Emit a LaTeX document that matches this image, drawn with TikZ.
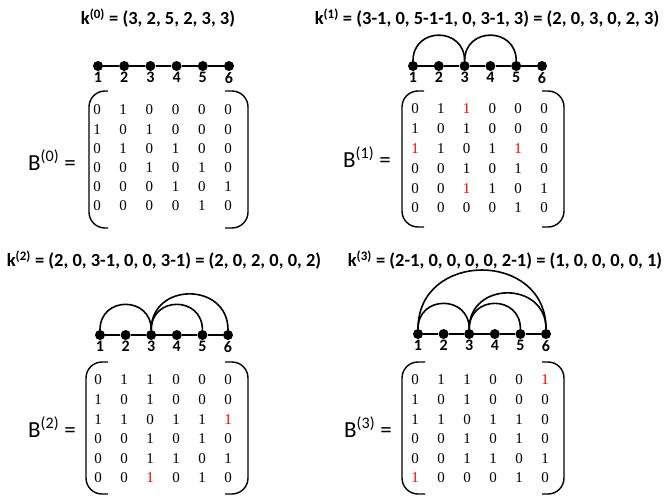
\documentclass[tikz,border=0pt]{standalone}
\usepackage{fontspec}
\setmainfont{Carlito}
\newfontfamily\entryfont{Liberation Serif}
\newcommand\rd[1]{\textcolor{red}{#1}}
\begin{document}
\begin{tikzpicture}[x=1pt,y=-1pt,
  dot/.style={circle,fill,inner sep=0pt,minimum size=10pt},
  lbl/.style={font=\bfseries\fontsize{16}{16}\selectfont,anchor=north,inner sep=0pt},
  entry/.style={font=\entryfont\fontsize{15}{15}\selectfont,inner sep=0pt},
  title/.style={font=\bfseries\fontsize{18.5}{18.5}\selectfont},
  bname/.style={font=\fontsize{23}{23}\selectfont},
  spine/.style={line width=1.8pt},
  hop/.style={line width=1.6pt,out=90,in=90,looseness=1.7},
  paren/.style={line width=1.4pt,rounded corners=16pt}]
\useasboundingbox (0,0) rectangle (671,495);

% k(0)
\node[title] (t0) at (158,18) {k\textsuperscript{(0)} = (3, 2, 5, 2, 3, 3)};
\foreach \i in {1,...,6}{
    \node[dot] (a\i) at (98+26.2*\i-26.2,66) {};
    \node[lbl] (na\i) at (98+26.2*\i-26.2,72) {\i};
}
\draw[spine] (a1) -- (a2) -- (a3) -- (a4) -- (a5) -- (a6);
\node[bname] (b0) at (52,160) {B\textsuperscript{(0)} =};
\foreach \row [count=\r] in {{0,1,0,0,0,0},{1,0,1,0,0,0},{0,1,0,1,0,0},{0,0,1,0,1,0},{0,0,0,1,0,1},{0,0,0,0,1,0}}
    \foreach \v [count=\c] in \row
        \node[entry] (ma\r\c) at (97+26.2*\c-26.2,110+19.2*\r-19.2) {\v};
\draw[paren] (108,91) -- (89,91) -- (89,228) -- (108,228);
\draw[paren] (225,91) -- (248,91) -- (248,228) -- (225,228);

% k(1)
\node[title] (t1) at (487,18) {k\textsuperscript{(1)} = (3-1, 0, 5-1-1, 0, 3-1, 3) = (2, 0, 3, 0, 2, 3)};
\foreach \i in {1,...,6}{
    \node[dot] (b\i) at (413+25.8*\i-25.8,66) {};
    \node[lbl] (nb\i) at (413+25.8*\i-25.8,72) {\i};
}
\draw[spine] (b1) -- (b2) -- (b3) -- (b4) -- (b5) -- (b6);
\draw[hop] (b1) to (b3);
\draw[hop] (b3) to (b5);
\node[bname] (b1name) at (367,157) {B\textsuperscript{(1)} =};
\foreach \row [count=\r] in {{0,1,\rd1,0,0,0},{1,0,1,0,0,0},{\rd1,1,0,1,\rd1,0},{0,0,1,0,1,0},{0,0,\rd1,1,0,1},{0,0,0,0,1,0}}
    \foreach \v [count=\c] in \row
        \node[entry] (mb\r\c) at (415+25.8*\c-25.8,109+19.8*\r-19.8) {\v};
\draw[paren] (424,91) -- (402,91) -- (402,227) -- (424,227);
\draw[paren] (542,91) -- (564,91) -- (564,227) -- (542,227);

% k(2)
\node[title] (t2) at (164,260) {k\textsuperscript{(2)} = (2, 0, 3-1, 0, 0, 3-1) = (2, 0, 2, 0, 0, 2)};
\foreach \i in {1,...,6}{
    \node[dot] (c\i) at (100+25.6*\i-25.6,335) {};
    \node[lbl] (nc\i) at (100+25.6*\i-25.6,341) {\i};
}
\draw[spine] (c1) -- (c2) -- (c3) -- (c4) -- (c5) -- (c6);
\draw[hop] (c1) to (c3);
\draw[hop] (c3) to (c5);
\draw[hop,looseness=1.6] (c3) to (c6);
\node[bname] (b2name) at (52,427) {B\textsuperscript{(2)} =};
\foreach \row [count=\r] in {{0,1,1,0,0,0},{1,0,1,0,0,0},{1,1,0,1,1,\rd1},{0,0,1,0,1,0},{0,0,1,1,0,1},{0,0,\rd1,0,1,0}}
    \foreach \v [count=\c] in \row
        \node[entry] (mc\r\c) at (98+26*\c-26,380+19.6*\r-19.6) {\v};
\draw[paren] (108,362) -- (86,362) -- (86,494) -- (108,494);
\draw[paren] (225,362) -- (248,362) -- (248,494) -- (225,494);

% k(3)
\node[title] (t3) at (505,260) {k\textsuperscript{(3)} = (2-1, 0, 0, 0, 0, 2-1) = (1, 0, 0, 0, 0, 1)};
\foreach \i in {1,...,6}{
    \node[dot] (d\i) at (418+25.6*\i-25.6,334) {};
    \node[lbl] (nd\i) at (418+25.6*\i-25.6,340) {\i};
}
\draw[spine] (d1) -- (d2) -- (d3) -- (d4) -- (d5) -- (d6);
\draw[hop] (d1) to (d3);
\draw[hop] (d3) to (d5);
\draw[hop,looseness=1.6] (d3) to (d6);
\draw[hop,looseness=1.57] (d1) to (d6);
\node[bname] (b3name) at (368,427) {B\textsuperscript{(3)} =};
\foreach \row [count=\r] in {{0,1,1,0,0,\rd1},{1,0,1,0,0,0},{1,1,0,1,1,0},{0,0,1,0,1,0},{0,0,1,1,0,1},{\rd1,0,0,0,1,0}}
    \foreach \v [count=\c] in \row
        \node[entry] (md\r\c) at (415+26*\c-26,380+19.6*\r-19.6) {\v};
\draw[paren] (425,362) -- (402,362) -- (402,494) -- (425,494);
\draw[paren] (542,362) -- (564,362) -- (564,494) -- (542,494);
\end{tikzpicture}
\end{document}
